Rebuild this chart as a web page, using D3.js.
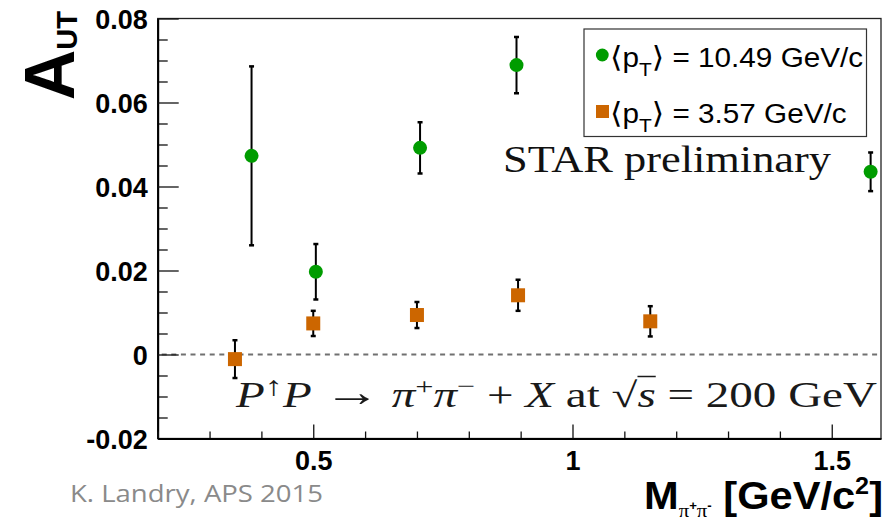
<!DOCTYPE html>
<html>
<head>
<meta charset="utf-8">
<script src="https://cdn.jsdelivr.net/npm/d3@7"></script>
<style>
  html, body { margin: 0; padding: 0; background: #fff; }
  svg { display: block; }
</style>
</head>
<body>
<svg id="chart" width="885" height="521"></svg>
<script>
// Transverse single-spin asymmetry A_UT of pi+pi- pairs vs. invariant mass
const massHighPt = [0.381, 0.505, 0.706, 0.892, 1.575];
const autHighPt  = [0.0473, 0.0197, 0.0492, 0.0689, 0.0435];
const errHighPt  = [0.0213, 0.0066, 0.0061, 0.0067, 0.0046];

const massLowPt = [0.349, 0.500, 0.700, 0.895, 1.150];
const autLowPt  = [-0.0011, 0.0074, 0.0094, 0.0141, 0.0079];
const errLowPt  = [0.0045, 0.0030, 0.0031, 0.0037, 0.0036];

const meanPt = ["10.49", "3.57"];

const xTickValues = [0.5, 1, 1.5];
const xTickLabels = ["0.5", "1", "1.5"];
const yTickValues = [-0.02, 0, 0.02, 0.04, 0.06, 0.08];
const yTickLabels = ["-0.02", "0", "0.02", "0.04", "0.06", "0.08"];

const GREEN = "#009c00";
const ORANGE = "#cc6600";

const series = [
  { name: meanPt[0], shape: "circle", color: GREEN,
    pts: massHighPt.map((m, i) => ({ m, a: autHighPt[i], e: errHighPt[i] })) },
  { name: meanPt[1], shape: "square", color: ORANGE,
    pts: massLowPt.map((m, i) => ({ m, a: autLowPt[i], e: errLowPt[i] })) }
];

const svg = d3.select("#chart");
const frameL = 157.7, frameR = 881, frameT = 18.5, frameB = 438.5;

const x = d3.scaleLinear().domain([0.2, 1.595]).range([frameL, frameR]);
const y = d3.scaleLinear().domain([-0.02, 0.08]).range([frameB, frameT]);

const sans = "'Liberation Sans', Arial, Helvetica, sans-serif";
const serif = "'Liberation Serif', 'Times New Roman', serif";

// stretch a text element horizontally by a factor
function widen(sel, factor) {
  const len = sel.node().getComputedTextLength();
  sel.attr("textLength", len * factor).attr("lengthAdjust", "spacingAndGlyphs");
}

// frame
svg.append("rect")
  .attr("x", frameL).attr("y", frameT)
  .attr("width", frameR - frameL).attr("height", frameB - frameT)
  .attr("fill", "none").attr("stroke", "#222").attr("stroke-width", 1.3);

// zero reference line
svg.append("line")
  .attr("x1", frameL + 4).attr("x2", frameR)
  .attr("y1", y(0)).attr("y2", y(0))
  .attr("stroke", "#707070").attr("stroke-width", 2)
  .attr("stroke-dasharray", "5,4.6");

// y axis: major ticks with labels, minor ticks
const yMinor = d3.ticks(-0.02, 0.08, 25).filter(v => !yTickValues.some(t => Math.abs(t - v) < 1e-9));
svg.append("g").attr("transform", `translate(${frameL},0)`)
  .call(d3.axisLeft(y).tickValues(yMinor).tickSizeInner(-10).tickSizeOuter(0).tickFormat(""))
  .call(g => g.select(".domain").remove())
  .call(g => g.selectAll("line").attr("stroke", "#111").attr("stroke-width", 1.3));

const yAxis = svg.append("g").attr("transform", `translate(${frameL},0)`)
  .call(d3.axisLeft(y).tickValues(yTickValues).tickSizeInner(-21).tickSizeOuter(0).tickPadding(10)
    .tickFormat((d, i) => yTickLabels[i]));
yAxis.select(".domain").attr("stroke", "#000").attr("stroke-width", 2);
yAxis.selectAll("line").attr("stroke", "#111").attr("stroke-width", 1.3);
yAxis.selectAll("text")
  .attr("font-family", sans).attr("font-weight", "bold").attr("font-size", 27)
  .attr("fill", "#000").attr("dy", "0.36em");

// x axis
const xMinor = d3.ticks(0.2, 1.6, 14).filter(v => v < 1.59 && !xTickValues.some(t => Math.abs(t - v) < 1e-9));
svg.append("g").attr("transform", `translate(0,${frameB})`)
  .call(d3.axisBottom(x).tickValues(xMinor).tickSizeInner(-7).tickSizeOuter(0).tickFormat(""))
  .call(g => g.select(".domain").remove())
  .call(g => g.selectAll("line").attr("stroke", "#111").attr("stroke-width", 1.3));

const xAxis = svg.append("g").attr("transform", `translate(0,${frameB})`)
  .call(d3.axisBottom(x).tickValues(xTickValues).tickSizeInner(-14).tickSizeOuter(0).tickPadding(12)
    .tickFormat((d, i) => xTickLabels[i]));
xAxis.select(".domain").attr("stroke", "#000").attr("stroke-width", 2);
xAxis.selectAll("line").attr("stroke", "#111").attr("stroke-width", 1.3);
xAxis.selectAll("text")
  .attr("font-family", sans).attr("font-weight", "bold").attr("font-size", 27)
  .attr("fill", "#000").attr("dy", "0.71em");

// y axis title A_UT
const yTitle = svg.append("text")
  .attr("transform", "translate(74,11) rotate(-90)")
  .attr("text-anchor", "end")
  .attr("font-family", sans).attr("font-weight", "bold").attr("fill", "#000");
yTitle.append("tspan").attr("font-size", 70).text("A");
yTitle.append("tspan").attr("font-size", 29).attr("dy", 3).text("UT");

// x axis title M_{pi+pi-} [GeV/c^2]
const xTitle = svg.append("text")
  .attr("x", 644).attr("y", 509)
  .attr("font-family", sans).attr("font-weight", "bold").attr("font-size", 38).attr("fill", "#000");
xTitle.append("tspan").text("M");
xTitle.append("tspan").attr("font-family", serif).attr("font-weight", "normal").attr("font-size", 19).attr("dy", 8).text("π");
xTitle.append("tspan").attr("font-size", 12).attr("dy", -7).text("+");
xTitle.append("tspan").attr("font-family", serif).attr("font-weight", "normal").attr("font-size", 19).attr("dy", 7).text("π");
xTitle.append("tspan").attr("font-size", 12).attr("dy", -7).text("-");
xTitle.append("tspan").attr("dy", -1).text(" [GeV/c");
xTitle.append("tspan").attr("font-size", 23).attr("dy", -15).text("2");
xTitle.append("tspan").attr("dy", 15).text("]");
xTitle.attr("textLength", 239).attr("lengthAdjust", "spacingAndGlyphs");

// error bars and markers
series.forEach(s => {
  const g = svg.append("g");
  const pts = g.selectAll("g.pt").data(s.pts).join("g").attr("class", "pt");
  pts.append("line")
    .attr("x1", d => x(d.m)).attr("x2", d => x(d.m))
    .attr("y1", d => y(d.a + d.e)).attr("y2", d => y(d.a - d.e))
    .attr("stroke", "#000").attr("stroke-width", 2);
  [1, -1].forEach(sign => {
    pts.append("line")
      .attr("x1", d => x(d.m) - 2.5).attr("x2", d => x(d.m) + 2.5)
      .attr("y1", d => y(d.a + sign * d.e)).attr("y2", d => y(d.a + sign * d.e))
      .attr("stroke", "#000").attr("stroke-width", 2.5);
  });
  if (s.shape === "circle") {
    pts.append("circle")
      .attr("cx", d => x(d.m)).attr("cy", d => y(d.a)).attr("r", 7)
      .attr("fill", s.color);
  } else {
    pts.append("rect")
      .attr("x", d => x(d.m) - 7).attr("y", d => y(d.a) - 7)
      .attr("width", 14).attr("height", 14)
      .attr("fill", s.color);
  }
});

// legend
const legend = svg.append("g");
legend.append("rect")
  .attr("x", 584).attr("y", 29).attr("width", 282.5).attr("height", 107.5)
  .attr("fill", "#fff").attr("stroke", "#333").attr("stroke-width", 1.2);
series.forEach((s, i) => {
  const cy = 55 + i * 56.5;
  if (s.shape === "circle") {
    legend.append("circle").attr("cx", 602.3).attr("cy", cy).attr("r", 6.4).attr("fill", s.color);
  } else {
    legend.append("rect").attr("x", 596).attr("y", cy - 6.5).attr("width", 13).attr("height", 13).attr("fill", s.color);
  }
  const t = legend.append("text")
    .attr("x", 610).attr("y", cy + 11.5)
    .attr("font-family", sans).attr("font-size", 27).attr("fill", "#000");
  t.append("tspan").attr("font-family", "'DejaVu Sans', sans-serif").attr("font-size", 29).text("⟨");
  t.append("tspan").text("p");
  t.append("tspan").attr("font-size", 19).attr("dy", 9).text("T");
  t.append("tspan").attr("font-family", "'DejaVu Sans', sans-serif").attr("font-size", 29).attr("dy", -9).text("⟩");
  t.append("tspan").text(` = ${s.name} GeV/c`);
  widen(t, 1.1);
});

// annotations
svg.append("text")
  .attr("x", 503).attr("y", 171.7)
  .attr("font-family", serif).attr("font-size", 38).attr("fill", "#111")
  .attr("textLength", 328).attr("lengthAdjust", "spacingAndGlyphs")
  .text("STAR preliminary");

const rx = svg.append("text")
  .attr("x", 236).attr("y", 407)
  .attr("font-family", serif).attr("font-size", 35).attr("fill", "#1a1a1a");
const parts = [
  { t: "P", it: true },
  { t: "↑", size: 27, dy: -12 },
  { t: "P", it: true, dy: 12 },
  { t: " " },
  { t: "→", size: 42, dy: -1 },
  { t: " ", dy: 1 },
  { t: "π", it: true },
  { t: "+", size: 24, dy: -13 },
  { t: "π", it: true, dy: 13 },
  { t: "−", size: 24, dy: -13 },
  { t: " + ", dy: 13 },
  { t: "X", it: true },
  { t: " at " },
  { t: "√", id: "rad" },
  { t: "s", it: true, id: "rads" },
  { t: " = 200 GeV" }
];
parts.forEach(p => {
  const ts = rx.append("tspan").text(p.t);
  if (p.it) ts.attr("font-style", "italic");
  if (p.size) ts.attr("font-size", p.size);
  if (p.dy) ts.attr("dy", p.dy);
  if (p.id) ts.attr("id", p.id);
});
rx.attr("textLength", 641).attr("lengthAdjust", "spacingAndGlyphs");

// overline of the square root
const radBox = document.getElementById("rad").getBBox();
const sBox = document.getElementById("rads").getBBox();
svg.append("line")
  .attr("x1", radBox.x + radBox.width - 1).attr("x2", sBox.x + sBox.width)
  .attr("y1", 407 - 30.5).attr("y2", 407 - 30.5)
  .attr("stroke", "#1a1a1a").attr("stroke-width", 1.5);

// credit line
svg.append("text")
  .attr("x", 70).attr("y", 502)
  .attr("font-family", "'Open Sans', sans-serif").attr("font-size", 24).attr("fill", "#8a8a8a")
  .attr("textLength", 253).attr("lengthAdjust", "spacingAndGlyphs")
  .text("K. Landry, APS 2015");
</script>
</body>
</html>
